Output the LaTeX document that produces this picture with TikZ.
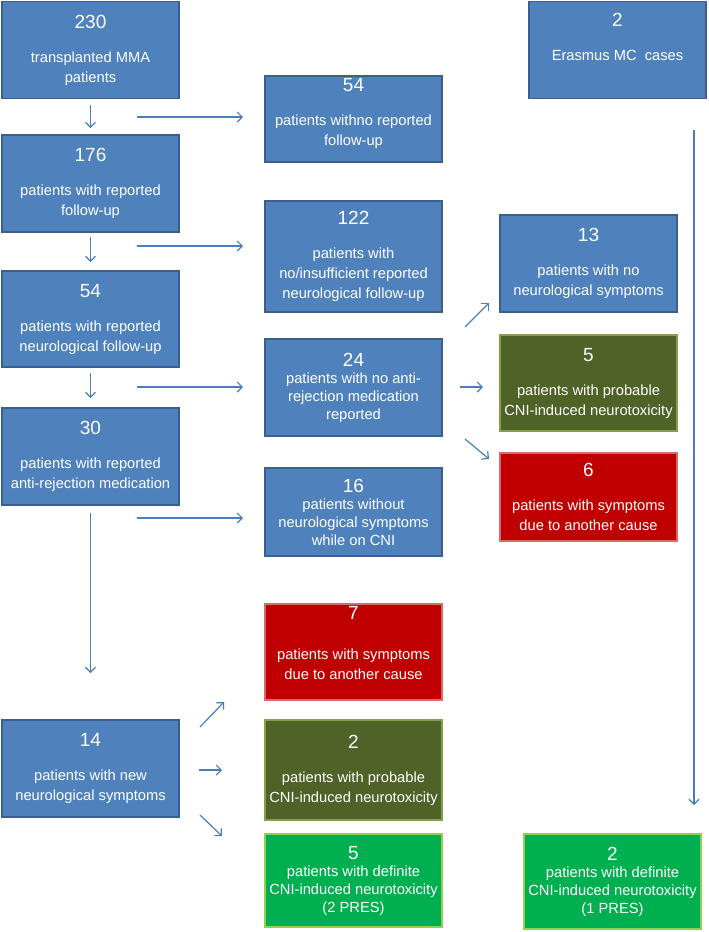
\documentclass[tikz,border=0pt]{standalone}
\usepackage{fontspec}
\setmainfont{Liberation Sans}
\usetikzlibrary{arrows.meta}
\definecolor{bfill}{HTML}{4F81BD}
\definecolor{bline}{HTML}{3A5F8E}
\definecolor{ofill}{HTML}{4F6228}
\definecolor{oline}{HTML}{86A04A}
\definecolor{rfill}{HTML}{C00000}
\definecolor{rline}{HTML}{D66B6B}
\definecolor{gfill}{HTML}{00B050}
\definecolor{gline}{HTML}{92D050}
\definecolor{arrc}{HTML}{4A7EBB}
\newcommand{\nb}[1]{{\fontsize{19}{22}\selectfont #1}}
\begin{document}
\begin{tikzpicture}[x=1pt,y=-1pt,
  box/.style={rectangle, line width=1.8pt, text=white, align=center, inner sep=0pt,
    minimum width=177.2pt, font=\fontsize{14.7}{20}\selectfont},
  compact/.style={font=\fontsize{14.7}{18}\selectfont},
  bluebox/.style={box, fill=bfill, draw=bline},
  olivebox/.style={box, fill=ofill, draw=oline},
  redbox/.style={box, fill=rfill, draw=rline},
  greenbox/.style={box, fill=gfill, draw=gline},
  arr/.style={draw=arrc, line width=1.2pt, -{Straight Barb[length=5pt,width=10pt]}}]
\useasboundingbox (0,0) rectangle (709,932);

% left column
\node[bluebox, minimum height=97pt] (A) at (90.5,50) {\nb{230}\\[14pt]transplanted MMA\\patients};
\node[bluebox, minimum height=97pt] (B) at (90.5,183.5) {\nb{176}\\[14pt]patients with reported\\follow-up};
\node[bluebox, minimum height=96pt] (C) at (90.5,319) {\nb{54}\\[14pt]patients with reported\\neurological follow-up};
\node[bluebox, minimum height=97pt] (D) at (90.5,456.5) {\nb{30}\\[14pt]patients with reported\\anti-rejection medication};
\node[bluebox, minimum height=97pt] (E) at (90.5,768.5) {\nb{14}\\[14pt]patients with new\\neurological symptoms};

% middle column
\node[bluebox, minimum height=86pt] (F) at (353.5,119) {\nb{54}\\[14pt]patients withno reported\\follow-up\\[-12pt]\strut};
\node[bluebox, minimum height=111pt] (G) at (353.5,256.5) {\nb{122}\\[14pt]patients with\\no/insufficient reported\\neurological follow-up};
\node[bluebox, compact, minimum height=97pt] (H) at (353.5,387.5) {\nb{24}\\[-1pt]patients with no anti-\\rejection medication\\reported};
\node[bluebox, compact, minimum height=88pt] (I) at (353.5,512) {\nb{16}\\[-1pt]patients without\\neurological symptoms\\while on CNI};
\node[redbox, minimum height=96pt] (J) at (353.5,652) {\nb{7}\\[20pt]patients with symptoms\\due to another cause\\[-8pt]\strut};
\node[olivebox, minimum height=100pt] (K) at (353.5,770) {\nb{2}\\[14pt]patients with probable\\CNI-induced neurotoxicity};
\node[greenbox, compact, minimum height=93pt] (L) at (353.5,880.5) {\nb{5}\\[-1pt]patients with definite\\CNI-induced neurotoxicity\\(2 PRES)};

% right column
\node[bluebox, minimum height=97pt] (M) at (588.5,263.5) {\nb{13}\\[14pt]patients with no\\neurological symptoms};
\node[olivebox, minimum height=96pt] (N) at (588.5,383) {\nb{5}\\[14pt]patients with probable\\CNI-induced neurotoxicity};
\node[redbox, minimum height=88pt] (O) at (588.5,497) {\nb{6}\\[14pt]patients with symptoms\\due to another cause};

% far right
\node[bluebox, minimum height=97pt] (P) at (617.5,50) {\nb{2}\\[14pt]Erasmus MC\ \ cases\\\strut};
\node[greenbox, compact, minimum height=95pt] (Q) at (612.5,881.5) {\nb{2}\\[-1pt]patients with definite\\CNI-induced neurotoxicity\\(1 PRES)};

% down arrows on the left
\draw[arr] ([yshift=-6pt]A.south) -- ([yshift=6pt]B.north);
\draw[arr] ([yshift=-4pt]B.south) -- ([yshift=8pt]C.north);
\draw[arr] ([yshift=-5pt]C.south) -- ([yshift=9pt]D.north);
\coordinate (d4) at (90.5,673);
\draw[arr] ([yshift=-7pt]D.south) -- (d4);

% horizontal arrows
\coordinate (h1s) at (137,117); \coordinate (h1e) at (243,117);
\coordinate (h2s) at (137,246); \coordinate (h2e) at (243,246);
\coordinate (h3s) at (137,387); \coordinate (h3e) at (243,387);
\coordinate (h4s) at (137,518); \coordinate (h4e) at (243,518);
\draw[arr] (h1s) -- (h1e);
\draw[arr] (h2s) -- (h2e);
\draw[arr] (h3s) -- (h3e);
\draw[arr] (h4s) -- (h4e);

% arrows from 24 box
\coordinate (r1s) at (465,327); \coordinate (r1e) at (489,303);
\coordinate (r2s) at (460,387); \coordinate (r2e) at (483,387);
\coordinate (r3s) at (465,439); \coordinate (r3e) at (489,459);
\draw[arr] (r1s) -- (r1e);
\draw[arr] (r2s) -- (r2e);
\draw[arr] (r3s) -- (r3e);

% arrows from 14 box
\coordinate (e1s) at (200,727); \coordinate (e1e) at (224,702);
\coordinate (e2s) at (199,770); \coordinate (e2e) at (222,770);
\coordinate (e3s) at (200,815); \coordinate (e3e) at (222,836);
\draw[arr] (e1s) -- (e1e);
\draw[arr] (e2s) -- (e2e);
\draw[arr] (e3s) -- (e3e);

% long vertical arrow on the right
\coordinate (vs) at (694,130); \coordinate (ve) at (694,805);
\draw[arr] (vs) -- (ve);
\end{tikzpicture}
\end{document}
